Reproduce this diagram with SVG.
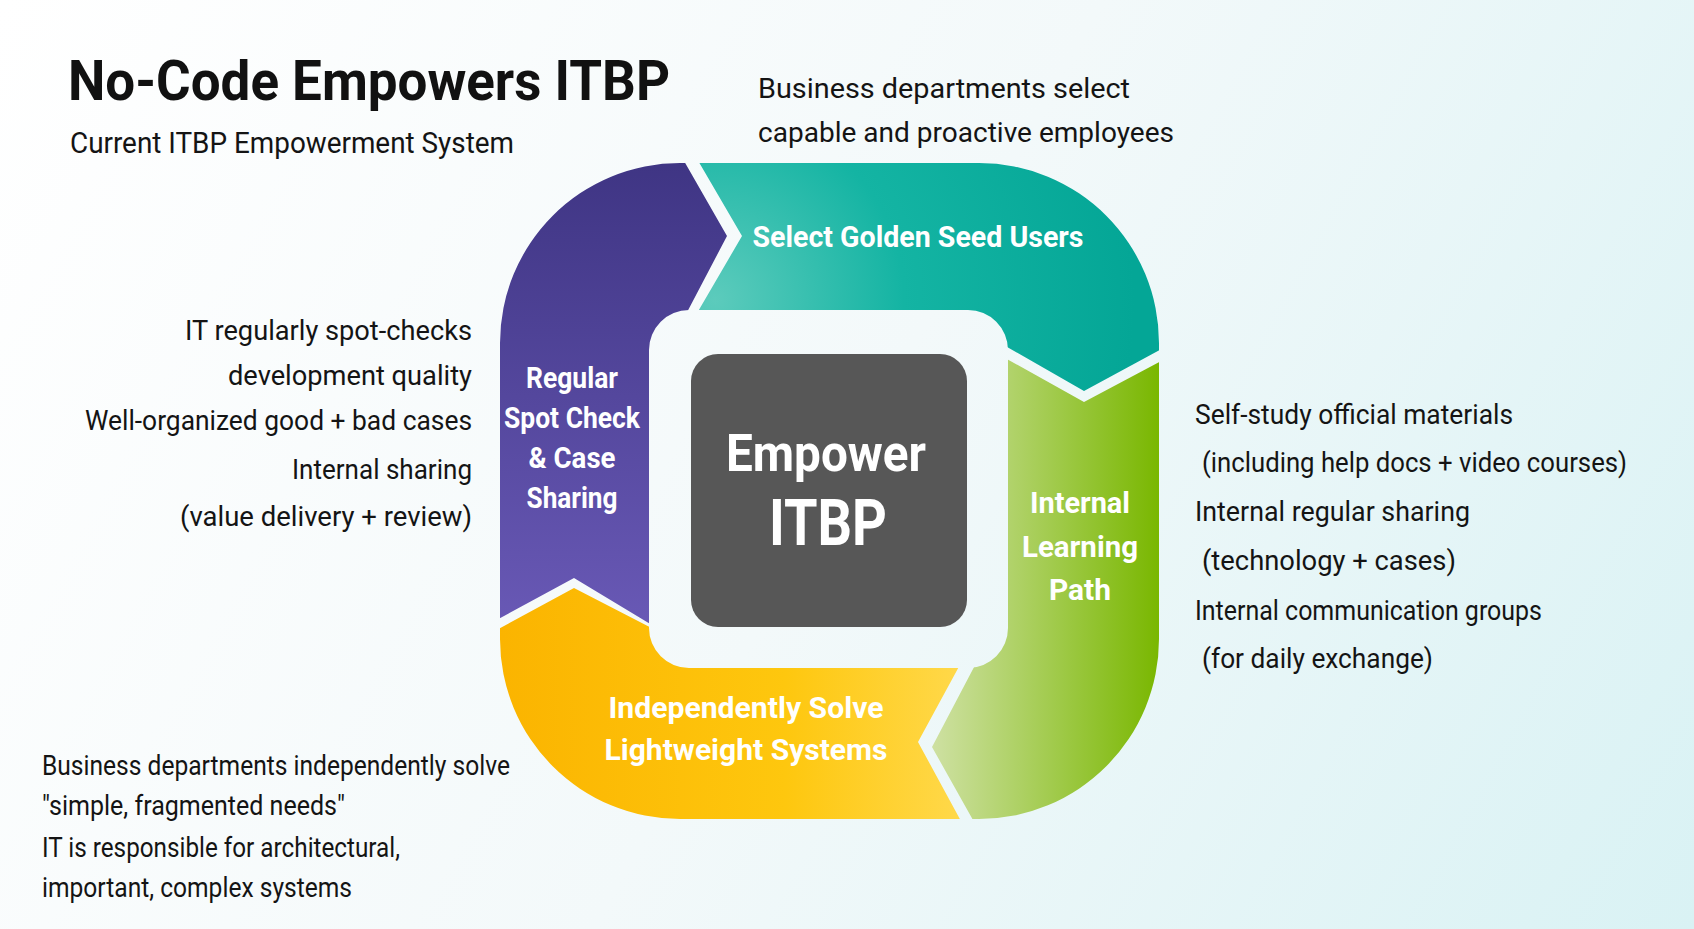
<svg xmlns="http://www.w3.org/2000/svg" width="1694" height="929" viewBox="0 0 1694 929">
  <defs>
    <style>
      .body { font-family: Roboto, "Liberation Sans", sans-serif; font-size: 28px; fill: #141414; }
      .lbl { font-family: Roboto, "Liberation Sans", sans-serif; font-weight: 700; font-size: 30px; fill: #ffffff; text-anchor: middle; }
      .ring { fill-rule: evenodd; }
    </style>
    <linearGradient id="bg" x1="0" y1="0" x2="1694" y2="929" gradientUnits="userSpaceOnUse">
      <stop offset="0" stop-color="#ffffff"/>
      <stop offset="0.5" stop-color="#f3f9fa"/>
      <stop offset="1" stop-color="#d9f2f4"/>
    </linearGradient>
    <linearGradient id="gPurple" x1="0" y1="163" x2="0" y2="630" gradientUnits="userSpaceOnUse">
      <stop offset="0" stop-color="#3f3584"/>
      <stop offset="1" stop-color="#6959b6"/>
    </linearGradient>
    <radialGradient id="gTeal" cx="715" cy="300" r="420" gradientUnits="userSpaceOnUse">
      <stop offset="0" stop-color="#5ccbbc"/>
      <stop offset="0.45" stop-color="#14b4a3"/>
      <stop offset="1" stop-color="#04a696"/>
    </radialGradient>
    <linearGradient id="gGreen" x1="930" y1="0" x2="1160" y2="0" gradientUnits="userSpaceOnUse">
      <stop offset="0" stop-color="#cfe1a4"/>
      <stop offset="1" stop-color="#79b700"/>
    </linearGradient>
    <linearGradient id="gYellow" x1="500" y1="0" x2="975" y2="0" gradientUnits="userSpaceOnUse">
      <stop offset="0" stop-color="#fbb400"/>
      <stop offset="0.6" stop-color="#fec70e"/>
      <stop offset="1" stop-color="#ffda4f"/>
    </linearGradient>
    <path id="ringShape" class="ring" d="M680,163 H979 A180,180 0 0 1 1159,343 V639 A180,180 0 0 1 979,819 H680 A180,180 0 0 1 500,639 V343 A180,180 0 0 1 680,163 Z M689,310 H968 A40,40 0 0 1 1008,350 V628 A40,40 0 0 1 968,668 H689 A40,40 0 0 1 649,628 V350 A40,40 0 0 1 689,310 Z"/>
    <clipPath id="cPurple"><polygon points="480,140 672,140 727,236 684,318 700,330 700,654 574,578 480,629"/></clipPath>
    <clipPath id="cTeal"><polygon points="686,140 1180,140 1180,339 1084,391 960,320 700,330 693,320 742,236"/></clipPath>
    <clipPath id="cGreen"><polygon points="980,344 1084,402 1180,351 1180,845 987,845 932,747 983,650"/></clipPath>
    <clipPath id="cYellow"><polygon points="480,639 574,588 700,653 968,650 918,742 974,845 480,845"/></clipPath>
  </defs>

  <rect x="0" y="0" width="1694" height="929" fill="url(#bg)"/>

  <g id="title">
    <text x="68" y="100" font-family="Roboto, 'Liberation Sans', sans-serif" font-weight="700" font-size="56" fill="#111" textLength="602" lengthAdjust="spacingAndGlyphs">No-Code Empowers ITBP</text>
    <text x="70" y="153" font-family="Roboto, 'Liberation Sans', sans-serif" font-size="30" fill="#141414" textLength="444" lengthAdjust="spacingAndGlyphs">Current ITBP Empowerment System</text>
  </g>

  <g id="node-select-golden-seed">
    <use href="#ringShape" fill="url(#gTeal)" clip-path="url(#cTeal)"/>
    <text class="lbl" x="918" y="247" textLength="331" lengthAdjust="spacingAndGlyphs">Select Golden Seed Users</text>
  </g>

  <g id="node-internal-learning">
    <use href="#ringShape" fill="url(#gGreen)" clip-path="url(#cGreen)"/>
    <text class="lbl" x="1080" y="513" textLength="100" lengthAdjust="spacingAndGlyphs">Internal</text>
    <text class="lbl" x="1080" y="557" textLength="116" lengthAdjust="spacingAndGlyphs">Learning</text>
    <text class="lbl" x="1080" y="600" textLength="62" lengthAdjust="spacingAndGlyphs">Path</text>
  </g>

  <g id="node-independently-solve">
    <use href="#ringShape" fill="url(#gYellow)" clip-path="url(#cYellow)"/>
    <text class="lbl" x="746" y="718" textLength="275" lengthAdjust="spacingAndGlyphs">Independently Solve</text>
    <text class="lbl" x="746" y="760" textLength="283" lengthAdjust="spacingAndGlyphs">Lightweight Systems</text>
  </g>

  <g id="node-spot-check">
    <use href="#ringShape" fill="url(#gPurple)" clip-path="url(#cPurple)"/>
    <text class="lbl" x="572" y="388" textLength="92" lengthAdjust="spacingAndGlyphs">Regular</text>
    <text class="lbl" x="572" y="428" textLength="136" lengthAdjust="spacingAndGlyphs">Spot Check</text>
    <text class="lbl" x="572" y="468" textLength="87" lengthAdjust="spacingAndGlyphs">&amp; Case</text>
    <text class="lbl" x="572" y="508" textLength="91" lengthAdjust="spacingAndGlyphs">Sharing</text>
  </g>

  <g id="node-empower-itbp">
    <rect x="691" y="354" width="276" height="273" rx="27" fill="#575757"/>
    <text x="826" y="471" text-anchor="middle" font-family="Roboto, 'Liberation Sans', sans-serif" font-weight="700" font-size="52" fill="#fff" textLength="200" lengthAdjust="spacingAndGlyphs">Empower</text>
    <text x="828" y="545" text-anchor="middle" font-family="Roboto, 'Liberation Sans', sans-serif" font-weight="700" font-size="64" fill="#fff" textLength="118" lengthAdjust="spacingAndGlyphs">ITBP</text>
  </g>

  <g id="note-select">
    <text class="body" x="758" y="98" textLength="372" lengthAdjust="spacingAndGlyphs">Business departments select</text>
    <text class="body" x="758" y="142" textLength="416" lengthAdjust="spacingAndGlyphs">capable and proactive employees</text>
  </g>

  <g id="note-spot-check" text-anchor="end">
    <text class="body" x="472" y="340" textLength="287" lengthAdjust="spacingAndGlyphs">IT regularly spot-checks</text>
    <text class="body" x="472" y="385" textLength="244" lengthAdjust="spacingAndGlyphs">development quality</text>
    <text class="body" x="472" y="430" textLength="387" lengthAdjust="spacingAndGlyphs">Well-organized good + bad cases</text>
    <text class="body" x="472" y="479" textLength="180" lengthAdjust="spacingAndGlyphs">Internal sharing</text>
    <text class="body" x="472" y="526" textLength="292" lengthAdjust="spacingAndGlyphs">(value delivery + review)</text>
  </g>

  <g id="note-learning">
    <text class="body" x="1195" y="424" textLength="318" lengthAdjust="spacingAndGlyphs">Self-study official materials</text>
    <text class="body" x="1202" y="472" textLength="425" lengthAdjust="spacingAndGlyphs">(including help docs + video courses)</text>
    <text class="body" x="1195" y="521" textLength="275" lengthAdjust="spacingAndGlyphs">Internal regular sharing</text>
    <text class="body" x="1202" y="570" textLength="254" lengthAdjust="spacingAndGlyphs">(technology + cases)</text>
    <text class="body" x="1195" y="620" textLength="347" lengthAdjust="spacingAndGlyphs">Internal communication groups</text>
    <text class="body" x="1202" y="668" textLength="231" lengthAdjust="spacingAndGlyphs">(for daily exchange)</text>
  </g>

  <g id="note-solve">
    <text class="body" x="42" y="775" textLength="468" lengthAdjust="spacingAndGlyphs">Business departments independently solve</text>
    <text class="body" x="42" y="815" textLength="303" lengthAdjust="spacingAndGlyphs">"simple, fragmented needs"</text>
    <text class="body" x="42" y="857" textLength="358" lengthAdjust="spacingAndGlyphs">IT is responsible for architectural,</text>
    <text class="body" x="42" y="897" textLength="310" lengthAdjust="spacingAndGlyphs">important, complex systems</text>
  </g>
</svg>
